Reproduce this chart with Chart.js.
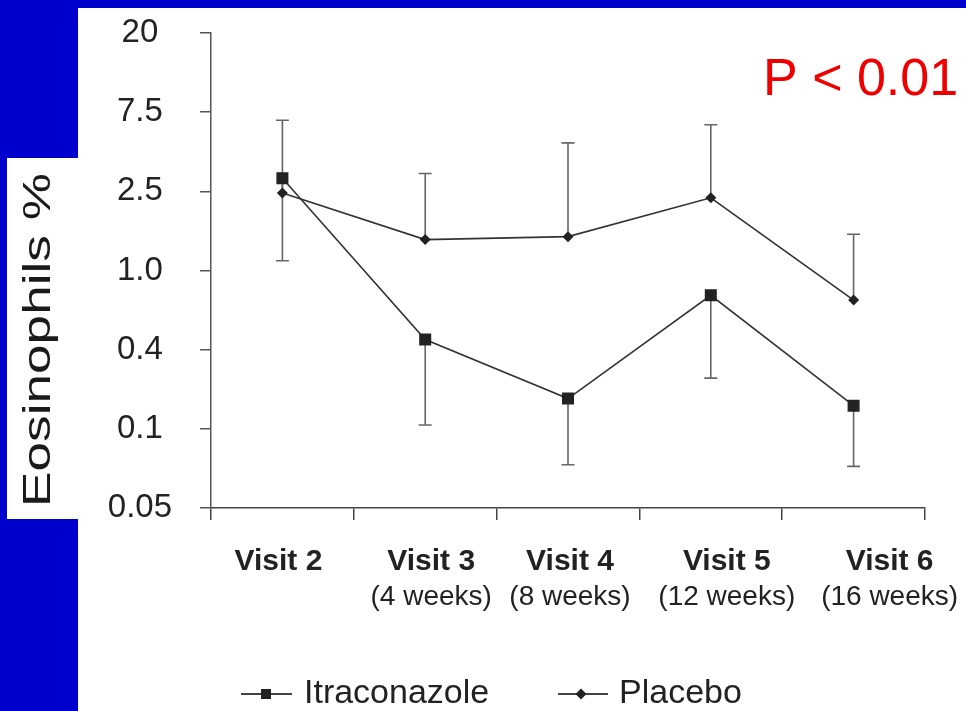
<!DOCTYPE html>
<html>
<head>
<meta charset="utf-8">
<script src="https://cdn.jsdelivr.net/npm/chart.js@4.4.1/dist/chart.umd.min.js"></script>
<style>
  html, body { margin: 0; padding: 0; background: #0000CC; }
  canvas { display: block; }
</style>
</head>
<body>
<canvas id="c" width="966" height="711"></canvas>
<script>
// ---- Data ----
const categories = ['Visit 2', 'Visit 3', 'Visit 4', 'Visit 5', 'Visit 6'];
const subLabels = ['', '(4 weeks)', '(8 weeks)', '(12 weeks)', '(16 weeks)'];
const yTickLabels = ['0.05', '0.1', '0.4', '1.0', '2.5', '7.5', '20'];
const yTickValues = [0.05, 0.1, 0.4, 1.0, 2.5, 7.5, 20];
const itraconazole = [3.0, 0.45, 0.17, 0.75, 0.15];
const itraconazoleLower = [1.12, 0.107, 0.073, 0.243, 0.072];
const placebo = [2.45, 1.43, 1.48, 2.32, 0.71];
const placeboUpper = [6.7, 3.2, 4.9, 6.3, 1.52];
const seriesNames = ['Itraconazole', 'Placebo'];
const pValueText = 'P < 0.01';
const yTitle = 'Eosinophils %';

// The axis has evenly spaced, non-uniform ticks: map a value to its tick position
function toAxis(v) {
  const t = yTickValues;
  for (let i = 0; i < t.length - 1; i++) {
    if (v <= t[i + 1] || i === t.length - 2) {
      return i + Math.log(v / t[i]) / Math.log(t[i + 1] / t[i]);
    }
  }
}

const FONT = '"Liberation Sans", Arial, Helvetica, sans-serif';
const labelShift = [-4, 6, 2, 16, 36];

const decorPlugin = {
  id: 'decor',
  beforeDraw(chart) {
    const ctx = chart.ctx;
    ctx.save();
    ctx.fillStyle = '#0000CC';
    ctx.fillRect(0, 0, chart.width, chart.height);
    ctx.fillStyle = '#FFFFFF';
    ctx.fillRect(78, 8, chart.width - 78, chart.height - 8);
    ctx.fillRect(7, 158, 72, 361);
    ctx.restore();
  },
  beforeDatasetsDraw(chart) {
    const ctx = chart.ctx;
    const xs = chart.scales.x, ys = chart.scales.y;
    ctx.save();
    ctx.strokeStyle = '#666';
    ctx.lineWidth = 1.6;
    const bar = (i, from, to) => {
      const x = xs.getPixelForValue(i);
      const y1 = ys.getPixelForValue(toAxis(from));
      const y2 = ys.getPixelForValue(toAxis(to));
      ctx.beginPath();
      ctx.moveTo(x, y1); ctx.lineTo(x, y2);
      ctx.moveTo(x - 6.5, y2); ctx.lineTo(x + 6.5, y2);
      ctx.stroke();
    };
    for (let i = 0; i < categories.length; i++) {
      bar(i, itraconazole[i], itraconazoleLower[i]);
      bar(i, placebo[i], placeboUpper[i]);
    }
    ctx.restore();
  },
  afterDraw(chart) {
    const ctx = chart.ctx;
    const xs = chart.scales.x;
    ctx.save();
    // x category labels (two lines, different weights)
    ctx.fillStyle = '#222';
    ctx.textAlign = 'center';
    ctx.textBaseline = 'alphabetic';
    for (let i = 0; i < categories.length; i++) {
      const x = xs.getPixelForValue(i) + labelShift[i];
      ctx.font = 'bold 30px ' + FONT;
      ctx.fillText(categories[i], x, 570);
      if (subLabels[i]) {
        ctx.font = '28px ' + FONT;
        ctx.fillText(subLabels[i], x, 605);
      }
    }
    // y title, rotated and stretched along its length
    ctx.save();
    ctx.font = '39px ' + FONT;
    const w = ctx.measureText(yTitle).width;
    ctx.translate(50, 507);
    ctx.rotate(-Math.PI / 2);
    ctx.scale(334 / w, 1);
    ctx.textAlign = 'left';
    ctx.fillStyle = '#1a1a1a';
    ctx.fillText(yTitle, 0, 0);
    ctx.restore();
    // P value
    ctx.font = '52px ' + FONT;
    ctx.fillStyle = '#EE0000';
    ctx.textAlign = 'left';
    ctx.fillText(pValueText, 763, 95);
    // legend
    ctx.strokeStyle = '#444';
    ctx.lineWidth = 2;
    ctx.fillStyle = '#222';
    ctx.beginPath();
    ctx.moveTo(241, 694); ctx.lineTo(292, 694);
    ctx.moveTo(558, 694); ctx.lineTo(608, 694);
    ctx.stroke();
    ctx.fillRect(261, 689, 10, 10);
    ctx.beginPath();
    ctx.moveTo(581 - 5.5, 694); ctx.lineTo(581, 694 - 5.5);
    ctx.lineTo(581 + 5.5, 694); ctx.lineTo(581, 694 + 5.5);
    ctx.closePath(); ctx.fill();
    ctx.font = '34px ' + FONT;
    ctx.fillStyle = '#222';
    ctx.fillText(seriesNames[0], 304, 703);
    ctx.fillText(seriesNames[1], 619, 703);
    ctx.restore();
  }
};

new Chart(document.getElementById('c'), {
  type: 'line',
  data: {
    labels: categories,
    datasets: [
      {
        label: seriesNames[0],
        data: itraconazole.map(toAxis),
        borderColor: '#333',
        borderWidth: 1.6,
        pointStyle: 'rect',
        pointRadius: 8.5,
        pointBackgroundColor: '#222',
        pointBorderColor: '#222',
        pointBorderWidth: 0,
        tension: 0
      },
      {
        label: seriesNames[1],
        data: placebo.map(toAxis),
        borderColor: '#333',
        borderWidth: 1.6,
        pointStyle: 'rectRot',
        pointRadius: 5.5,
        pointBackgroundColor: '#222',
        pointBorderColor: '#222',
        pointBorderWidth: 0,
        tension: 0
      }
    ]
  },
  options: {
    responsive: false,
    animation: false,
    layout: { padding: { left: 100, top: 33, right: 41, bottom: 0 } },
    plugins: { legend: { display: false }, tooltip: { enabled: false } },
    scales: {
      x: {
        type: 'category',
        offset: true,
        grid: { offset: true, drawOnChartArea: false, drawTicks: true, tickLength: 12, color: '#444', lineWidth: 1.5 },
        border: { color: '#444', width: 1.5 },
        ticks: { display: false },
        afterFit(scale) { scale.height = 203; scale.paddingLeft = 0; scale.paddingRight = 0; }
      },
      y: {
        type: 'linear',
        min: 0,
        max: 6,
        grid: { drawOnChartArea: false, drawTicks: true, tickLength: 11, color: '#555', lineWidth: 1.5 },
        border: { color: '#555', width: 1.5 },
        ticks: {
          stepSize: 1,
          crossAlign: 'center',
          padding: 28,
          color: '#222',
          font: { family: FONT, size: 33 },
          callback: (v) => yTickLabels[v]
        },
        afterFit(scale) { scale.width = 111; scale.paddingTop = 0; scale.paddingBottom = 0; }
      }
    }
  },
  plugins: [decorPlugin]
});
</script>
</body>
</html>
